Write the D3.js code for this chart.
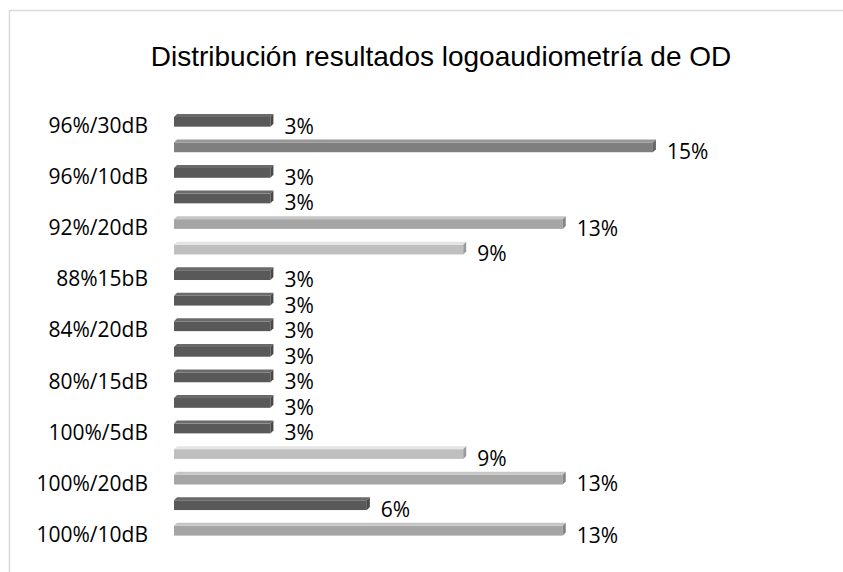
<!DOCTYPE html>
<html>
<head>
<meta charset="utf-8">
<script src="https://cdn.jsdelivr.net/npm/d3@7"></script>
<style>
  body { margin: 0; background: #fff; }
  svg { display: block; }
</style>
</head>
<body>
<div id="chart"></div>
<script>
// data, top to bottom (only every other category label is shown in the chart)
var categories = ["96%/30dB", "", "96%/10dB", "", "92%/20dB", "", "88%15bB", "",
                  "84%/20dB", "", "80%/15dB", "", "100%/5dB", "", "100%/20dB", "", "100%/10dB"];
var values = [3.1, 15.4, 3.1, 3.1, 12.5, 9.3, 3.1, 3.1,
              3.1, 3.1, 3.1, 3.1, 3.1, 9.3, 12.5, 6.2, 12.5];
var title = "Distribución resultados logoaudiometría de OD";

var width = 843, height = 572;

var svg = d3.select("#chart").append("svg")
    .attr("width", width)
    .attr("height", height);

// chart frame
svg.append("path")
    .attr("d", "M9.5," + height + "V10.5H" + width)
    .attr("fill", "none")
    .attr("stroke", "#d9d9d9")
    .attr("stroke-width", 1.5);

svg.append("text")
    .attr("x", 441)
    .attr("y", 66)
    .attr("text-anchor", "middle")
    .attr("font-family", "Liberation Sans, Arial, sans-serif")
    .attr("font-size", 28)
    .attr("fill", "#000")
    .text(title);

var x = d3.scaleLinear()
    .domain([0, 20])
    .range([174, 796]);

var y = d3.scaleBand()
    .domain(d3.range(categories.length))
    .range([107.5, 542])
    .paddingInner(0.5)
    .paddingOuter(0.25);

// colour by value, like the shaded bars of the original
function barColor(v) {
  if (v > 15) return "#7f7f7f";
  if (v > 10) return "#a5a5a5";
  if (v > 8) return "#bfbfbf";
  return "#595959";
}

var bars = svg.append("g").selectAll("g")
    .data(values)
  .enter().append("g");

var bh = y.bandwidth();
var depth = 3;

// front face
bars.append("rect")
    .attr("x", x(0))
    .attr("y", function(d, i) { return y(i) + depth; })
    .attr("width", function(d) { return x(d) - x(0); })
    .attr("height", bh - depth)
    .attr("fill", function(d) { return barColor(d); });

// top face
bars.append("path")
    .attr("d", function(d, i) {
      var y0 = y(i) + depth;
      return "M" + x(0) + "," + y0 + "L" + (x(0) + depth) + "," + (y0 - depth) +
             "H" + (x(d) + depth) + "L" + x(d) + "," + y0 + "Z";
    })
    .attr("fill", function(d) { return d3.color(barColor(d)).brighter(0.5); });

// end cap
bars.append("path")
    .attr("d", function(d, i) {
      var y0 = y(i) + depth;
      return "M" + x(d) + "," + y0 + "L" + (x(d) + depth) + "," + (y0 - depth) +
             "V" + (y0 + bh - 2 * depth) + "L" + x(d) + "," + (y0 + bh - depth) + "Z";
    })
    .attr("fill", function(d) { return d3.color(barColor(d)).darker(0.6); });

// value labels
bars.append("text")
    .attr("x", function(d) { return x(d) + 14; })
    .attr("y", function(d, i) { return y(i) + bh / 2 + 6; })
    .attr("dy", "0.35em")
    .attr("font-family", "Open Sans, sans-serif")
    .attr("font-size", 21)
    .attr("fill", "#000")
    .text(function(d) { return Math.round(d) + "%"; });

// category axis
var yAxis = svg.append("g")
    .attr("transform", "translate(" + x(0) + ",6)")
    .call(d3.axisLeft(y)
      .tickSize(0)
      .tickPadding(26)
      .tickFormat(function(i) { return categories[i]; }));

yAxis.select(".domain").remove();
yAxis.selectAll("text")
    .attr("font-family", "Open Sans, sans-serif")
    .attr("font-size", 21)
    .attr("fill", "#000");
</script>
</body>
</html>
